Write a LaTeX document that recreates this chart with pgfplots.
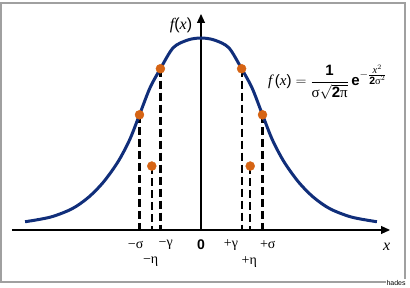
\documentclass[border=0pt]{standalone}
\usepackage{amsmath}
\usepackage{pgfplots}
\pgfplotsset{compat=1.18}
\usepackage{pgfplotstable}
\usetikzlibrary{arrows.meta}
\usepackage{fontspec}
\setmainfont{Liberation Sans}
\newfontfamily\serif{Liberation Serif}
\definecolor{curveblue}{RGB}{16,46,122}
\definecolor{dotorange}{RGB}{214,100,20}
\definecolor{bordergray}{RGB}{160,160,160}

\pgfplotstableread{
x y
-2.86 0.043
-2.45 0.067
-2.10 0.110
-1.83 0.170
-1.585 0.250
-1.35 0.355
-1.16 0.470
-1.00 0.600
-0.83 0.740
-0.66 0.840
-0.45 0.950
-0.21 0.990
0 1.000
0.21 0.990
0.45 0.950
0.66 0.840
0.83 0.740
1.00 0.600
1.16 0.470
1.35 0.355
1.585 0.250
1.83 0.170
2.10 0.110
2.45 0.067
2.86 0.043
}\curve

\begin{document}
\begin{tikzpicture}
\begin{axis}[
  scale only axis, width=410pt, height=287pt,
  xmin=-3.268, xmax=3.398, ymin=-0.2969, ymax=1.1979,
  hide axis, clip=false,
]
\fill[white] (axis cs:-3.268,-0.2969) rectangle (axis cs:3.398,1.1979);
\draw[bordergray, line width=2pt] (axis cs:-3.244,1.1797) rectangle (axis cs:3.309,-0.2708);
% axes
\draw[black, line width=1.1pt, -{Triangle[length=9pt,width=8pt]}] (axis cs:-3.073,0) -- (axis cs:3.073,0);
\draw[black, line width=1.1pt, -{Triangle[length=9pt,width=8pt]}] (axis cs:0,0) -- (axis cs:0,1.125);
% dashed drops
\addplot[black, line width=2.2pt, dash pattern=on 8pt off 4pt] coordinates {(-1,0.6) (-1,0)};
\addplot[black, line width=2.2pt, dash pattern=on 8pt off 4pt] coordinates {(-0.8,0.333) (-0.8,0)};
\addplot[black, line width=2.2pt, dash pattern=on 8pt off 4pt] coordinates {(-0.66,0.84) (-0.66,0)};
\addplot[black, line width=2.2pt, dash pattern=on 8pt off 4pt] coordinates {(0.66,0.84) (0.66,0)};
\addplot[black, line width=2.2pt, dash pattern=on 8pt off 4pt] coordinates {(0.8,0.333) (0.8,0)};
\addplot[black, line width=2.2pt, dash pattern=on 8pt off 4pt] coordinates {(1,0.6) (1,0)};
% curve
\addplot[curveblue, line width=3pt, smooth] table {\curve};
% dots
\addplot[dotorange, only marks, mark=*, mark size=4.5pt, mark options={draw=none, fill=dotorange}]
  coordinates {(-1,0.6) (-0.8,0.333) (-0.66,0.84) (0.66,0.84) (0.8,0.333) (1,0.6)};
% tick labels
\node[font=\serif\fontsize{14}{14}\selectfont] at (axis cs:-1.062,-0.078) {−σ};
\node[font=\serif\fontsize{14}{14}\selectfont] at (axis cs:-0.574,-0.078) {−γ};
\node[font=\bfseries\fontsize{14}{14}\selectfont] at (axis cs:0,-0.078) {0};
\node[font=\serif\fontsize{14}{14}\selectfont] at (axis cs:0.488,-0.078) {+γ};
\node[font=\serif\fontsize{14}{14}\selectfont] at (axis cs:1.085,-0.078) {+σ};
\node[font=\serif\fontsize{14}{14}\selectfont] at (axis cs:-0.818,-0.165) {−η};
\node[font=\serif\fontsize{14}{14}\selectfont] at (axis cs:0.785,-0.165) {+η};
\node[font=\serif\itshape\fontsize{16}{16}\selectfont] at (axis cs:3.02,-0.087) {x};
\node[font=\fontsize{16}{16}\selectfont] at (axis cs:-0.325,1.068) {{\serif\itshape f}({\serif\itshape x})};
% formula
\node[anchor=west, inner sep=0pt, font=\fontsize{15}{15}\selectfont] at (axis cs:1.089,0.771)
  {$\text{{\serif\itshape f}\,({\serif\itshape x})} = \displaystyle\frac{\text{\bfseries 1}}{\text{\serif σ}\sqrt{\text{\bfseries 2}\text{\serif π}}}\,\text{\bfseries e}^{-\frac{\scriptstyle\text{\serif\itshape x}^{2}}{\scriptstyle\text{\bfseries 2}\text{\serif σ}^{2}}}$};
% credit
\node[fill=white, inner sep=1pt, font=\fontsize{7}{7}\selectfont] at (axis cs:3.171,-0.276) {hades};
\end{axis}
\end{tikzpicture}
\end{document}
